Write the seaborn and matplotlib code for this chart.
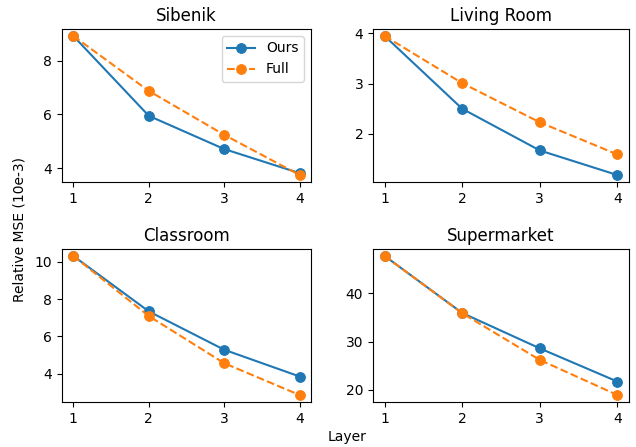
import matplotlib
matplotlib.use("Agg")
import matplotlib.pyplot as plt
import seaborn as sns
import pandas as pd

layers = [1, 2, 3, 4]
titles = ["Sibenik", "Living Room", "Classroom", "Supermarket"]
ours = {
    "Sibenik": [8.93, 5.95, 4.71, 3.81],
    "Living Room": [3.95, 2.50, 1.67, 1.18],
    "Classroom": [10.30, 7.34, 5.29, 3.86],
    "Supermarket": [47.8, 35.95, 28.6, 21.7],
}
full = {
    "Sibenik": [8.93, 6.88, 5.24, 3.74],
    "Living Room": [3.95, 3.01, 2.23, 1.59],
    "Classroom": [10.30, 7.09, 4.57, 2.87],
    "Supermarket": [47.8, 35.9, 26.2, 18.9],
}

W, H = 636, 447
fig = plt.figure(figsize=(W / 100, H / 100), dpi=100)
# pixel boxes (left, top, right, bottom)
boxes = [(62, 29, 311, 182), (373, 29, 629, 182),
         (62, 249, 311, 402), (373, 249, 629, 402)]
blue, orange = "#1f77b4", "#ff7f0e"
for i, (name, (l, t, r, b)) in enumerate(zip(titles, boxes)):
    ax = fig.add_axes([l / W, 1 - b / H, (r - l) / W, (b - t) / H])
    df = pd.DataFrame({"Layer": layers, "Ours": ours[name], "Full": full[name]})
    sns.lineplot(data=df, x="Layer", y="Ours", ax=ax, color=blue, marker="o",
                 markersize=7, markeredgecolor=blue, linewidth=1.5, label="Ours")
    sns.lineplot(data=df, x="Layer", y="Full", ax=ax, color=orange, marker="o",
                 markersize=7, markeredgecolor=orange, linewidth=1.5,
                 linestyle="--", label="Full")
    ax.set_title(name, fontsize=12)
    ax.set_xlabel("")
    ax.set_ylabel("")
    ax.set_xticks(layers)
    ax.tick_params(labelsize=10)
    if i == 0:
        ax.legend(loc="upper right", fontsize=10)
    else:
        ax.get_legend().remove()

fig.text(347 / W, 1 - 437 / H, "Layer", ha="center", va="center", fontsize=10)
fig.text(20 / W, 1 - 230 / H, "Relative MSE (10e-3)", ha="center", va="center",
         rotation=90, fontsize=10)
fig.savefig("out.png", dpi=100)
